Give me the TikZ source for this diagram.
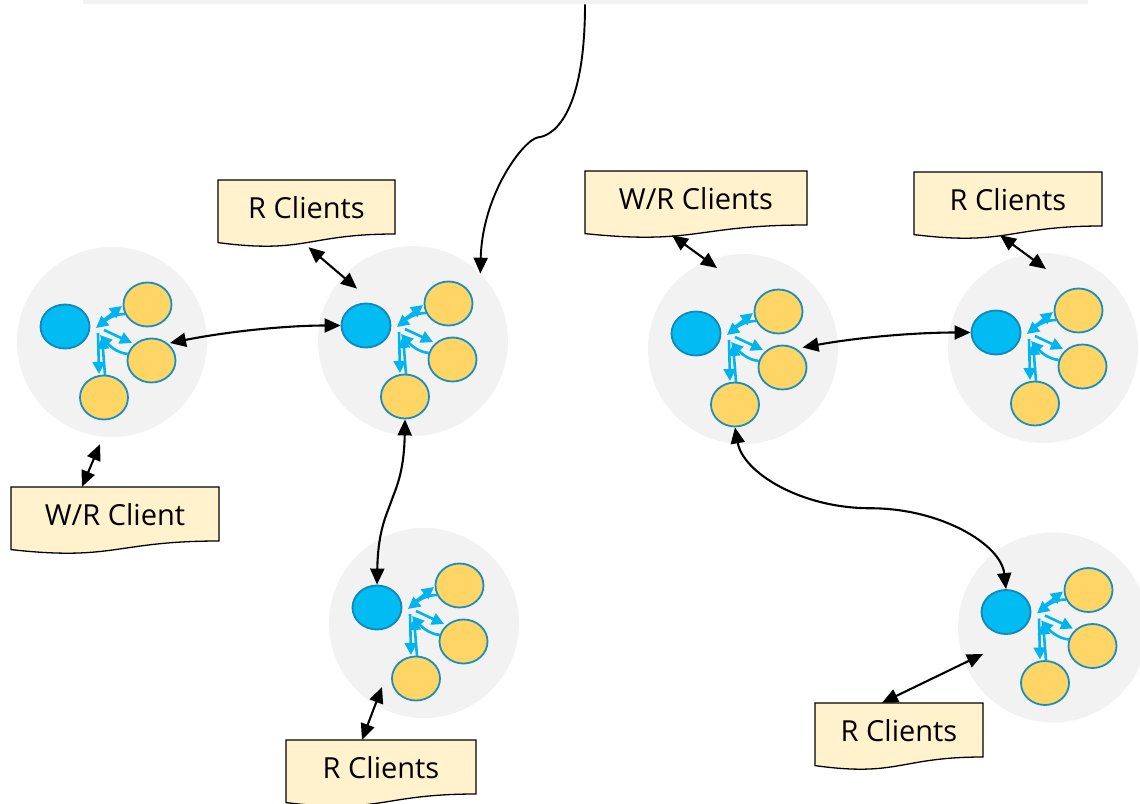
\documentclass[tikz,border=0pt]{standalone}
\usepackage{fontspec}
\setmainfont{Open Sans}
\usetikzlibrary{shapes.geometric,arrows.meta,calc}

\definecolor{haze}{HTML}{F2F2F2}
\definecolor{primfill}{HTML}{00BCF2}
\definecolor{primline}{HTML}{1088B8}
\definecolor{secfill}{HTML}{FFD566}
\definecolor{secline}{HTML}{1A8FBF}
\definecolor{repl}{HTML}{00B4F0}
\definecolor{notefill}{HTML}{FFF2CC}

\tikzset{
  zone/.style={circle, fill=haze, minimum size=190pt, inner sep=0},
  prim/.style={ellipse, fill=primfill, draw=primline, line width=1.8pt,
    minimum width=49pt, minimum height=44pt, inner sep=0},
  sec/.style={ellipse, fill=secfill, draw=secline, line width=1.8pt,
    minimum width=48pt, minimum height=44pt, inner sep=0},
  rep/.style={draw=repl, line width=2.6pt, -{Triangle[length=12pt,width=12pt]}},
  link/.style={draw=black, line width=2.1pt,
    {Triangle[length=16pt,width=14pt]}-{Triangle[length=16pt,width=14pt]}},
  feedline/.style={draw=black, line width=1.9pt, -{Triangle[length=16pt,width=14pt]}},
  notebox/.style={fill=notefill, draw=black, line width=1.3pt},
  notetext/.style={inner sep=0, text height=20pt, text depth=6pt,
    minimum height=62pt, font=\fontsize{29}{35}\selectfont},
}

% one replica set: shaded zone, primary, three secondaries, replication arrows
\newcommand\replset[3]{%
  \begin{scope}[shift={(#2,#3)}]
    \node[zone] (#1-g) at (0,0) {};
    \node[prim] (#1-p) at (-47,-15.5) {};
    \node[sec] (#1-s1) at (35.5,-37.5) {};
    \node[sec] (#1-s2) at (39.5,18.5) {};
    \node[sec] (#1-s3) at (-8,55.5) {};
    \draw[rep] (-12,-19) -- (10,-36);
    \draw[rep] (13,-28) .. controls (2,-28) and (-6,-22) .. (-16,-14);
    \draw[rep] (-8,-12) -- (20,1);
    \draw[rep] (16,12) .. controls (4,11) and (-4,2) .. (-12,-7);
    \draw[rep] (-14,-9) -- (-13,32);
    \draw[rep] (-7,33) -- (-10,-5);
  \end{scope}}

% client note with a wavy lower edge: name, left, top, width, text
\newcommand\clientnote[5]{%
  \path[notebox] (#2,#3) -- ({#2+#4},#3) -- ({#2+#4},{#3+54})
    .. controls ({#2+#4/2},{#3+54}) and ({#2+#4/2},{#3+74.2}) .. (#2,{#3+62.6}) -- cycle;
  \node[notetext, minimum width=#4pt] (#1) at ({#2+#4/2},{#3+31}) {#5};}

\begin{document}
\begin{tikzpicture}[x=1pt,y=-1pt]
\useasboundingbox (0,0) rectangle (1140,803);

\node[fill=haze, minimum width=1005pt, minimum height=4pt, inner sep=0,
  anchor=north west] (bar) at (83,0) {};

\replset{A}{112}{342}
\replset{B}{413}{341}
\replset{C}{424}{623}
\replset{D}{743}{349}
\replset{E}{1043}{348}
\replset{F}{1053}{627.5}

\clientnote{rA}{218}{180}{177}{R Clients}
\clientnote{wA}{11}{487}{208}{W/R Client}
\clientnote{rC}{286}{740}{190}{R Clients}
\clientnote{wD}{585}{171}{222}{W/R Clients}
\clientnote{rE}{914}{172}{188}{R Clients}
\clientnote{rF}{815}{703}{168}{R Clients}

% feed from the top bar into the second set
\coordinate (tap) at ($(bar.south west)+(502,0)$);
\coordinate (bend) at ($(tap)+(-47,133)$);
\draw[feedline] (tap) .. controls +(0,105) and +(18,-2) .. (bend)
  .. controls +(-14,2) and +(2,-80) .. (B-g.45);

% links between sets and clients
\draw[link] ($(rA.south)+(2,5)$) -- ($(B-p.north)+(-9,-14)$);
\draw[link] ($(A-s2.center)+(18.5,-17.5)$) .. controls +(55,-11) and +(-57,0) .. (B-p.west);
\draw[link] ($(A-g.south)+(-12,7)$) -- ($(wA.north)+(-33,0)$);
\coordinate (midBC) at ($(B-s3.south)!0.5!(C-p.north)$);
\draw[link] (B-s3.south) .. controls +(-1,55) and +(4,-12) .. (midBC)
  .. controls +(-4,12) and +(1,-55) .. (C-p.north);
\draw[link] ($(C-g.center)+(-42,64)$) -- ($(rC.north)+(-19,0)$);
\draw[link] ($(wD.south)+(-24,2)$) -- ($(D-g.center)+(-26,-81)$);
\draw[link] ($(D-s2.center)+(20,-20)$) .. controls +(55,-10) and +(-57,0) .. (E-p.west);
\draw[link] ($(rE.south)+(-8,1)$) -- ($(E-g.center)+(3,-79)$);
\coordinate (midDF) at ($(D-s3.south)!0.5!(F-p.north)$);
\draw[link] (D-s3.south) .. controls +(8,45) and +(-70,0) .. (midDF)
  .. controls +(70,0) and +(-5,-45) .. (F-p.north);
\draw[link] ($(F-g.center)+(-70,26.5)$) -- ($(rF.north)+(-17,0)$);
\end{tikzpicture}
\end{document}
